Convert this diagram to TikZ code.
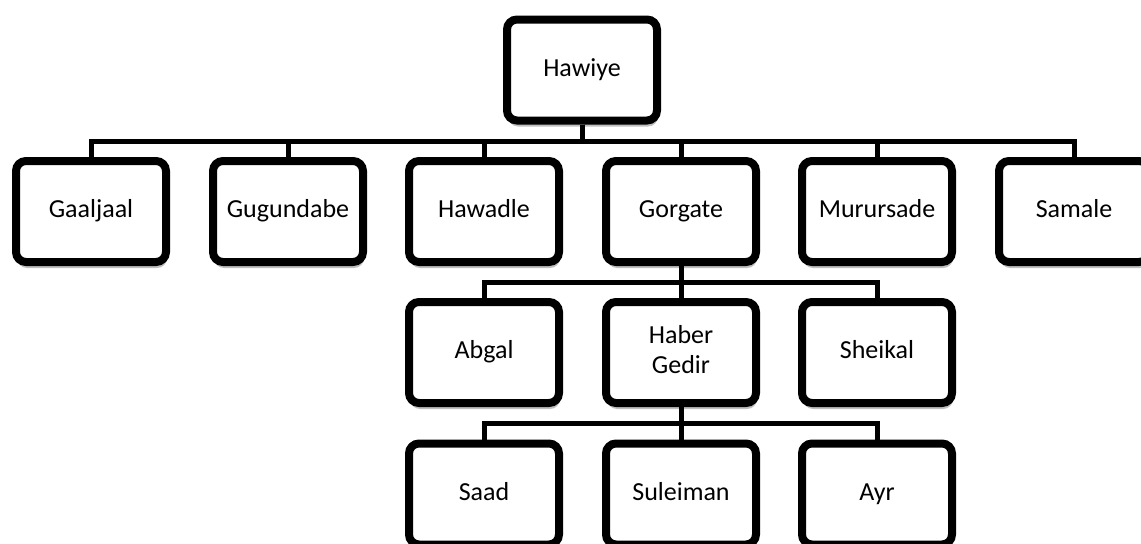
\documentclass[tikz,border=0pt]{standalone}
\usepackage{fontspec}
\setmainfont{Carlito}
\usepackage{tikz}
\usetikzlibrary{shadows}

\tikzset{
  clan/.style={draw, line width=6pt, rounded corners=7.5pt, fill=white,
    minimum width=112.5pt, minimum height=75.75pt, text width=100pt, align=center,
    font=\fontsize{19.5}{23}\selectfont,
    execute at begin node=\strut, execute at end node=\strut,
    drop shadow={shadow xshift=0.8pt, shadow yshift=-4.5pt, fill=black, opacity=0.25}},
  link/.style={line width=3.75pt}
}

\begin{document}
\begin{tikzpicture}[x=0.75pt, y=-0.75pt]
\useasboundingbox (0,0) rectangle (1141,543);
% bus lines
\coordinate (bus1) at (582,141);
\coordinate (bus2) at (681,282);
\coordinate (bus3) at (681,423);
% nodes
\node[clan] (hawiye) at (582,70) {Hawiye};
\node[clan] (gaaljaal) at (91,211.5) {Gaaljaal};
\node[clan] (gugundabe) at (288,211.5) {Gugundabe};
\node[clan] (hawadle) at (484,211.5) {Hawadle};
\node[clan] (gorgate) at (681,211.5) {Gorgate};
\node[clan] (murursade) at (877,211.5) {Murursade};
\node[clan] (samale) at (1074,211.5) {Samale};
\node[clan] (abgal) at (484,352.5) {Abgal};
\node[clan] (habergedir) at (681,352.5) {Haber\\Gedir};
\node[clan] (sheikal) at (877,352.5) {Sheikal};
\node[clan] (saad) at (484,494) {Saad};
\node[clan] (suleiman) at (681,494) {Suleiman};
\node[clan] (ayr) at (877,494) {Ayr};
% connectors
\foreach \c in {gaaljaal,gugundabe,hawadle,gorgate,murursade,samale}
  \draw[link] (hawiye.south) -- (bus1) -| (\c.north);
\foreach \c in {abgal,habergedir,sheikal}
  \draw[link] (gorgate.south) -- (bus2) -| (\c.north);
\foreach \c in {saad,suleiman,ayr}
  \draw[link] (habergedir.south) -- (bus3) -| (\c.north);
\end{tikzpicture}
\end{document}
